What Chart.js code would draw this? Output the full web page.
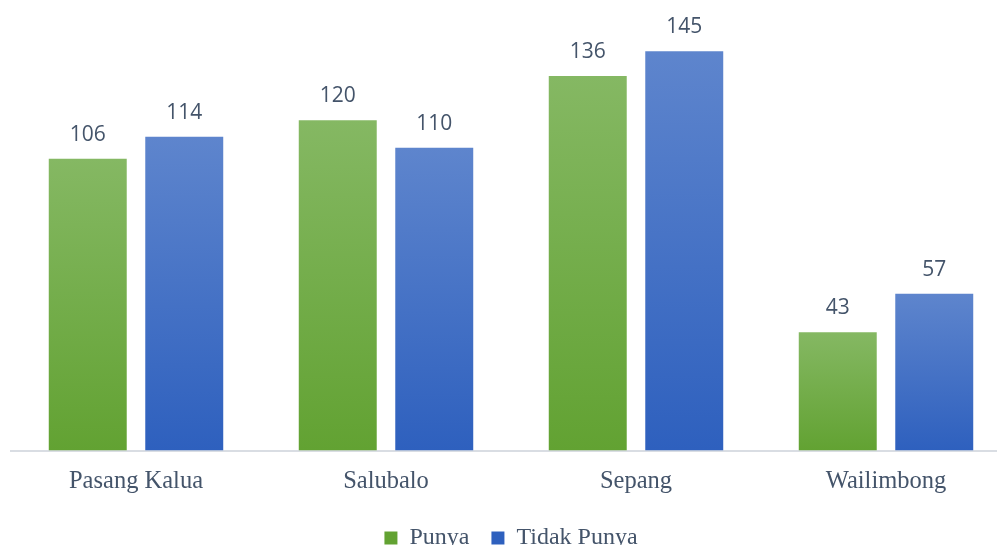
<!DOCTYPE html>
<html>
<head>
<meta charset="utf-8">
<script src="https://cdn.jsdelivr.net/npm/chart.js@4"></script>
<style>
  html, body { margin: 0; padding: 0; background: #fff; overflow: hidden; }
  #wrap { width: 1012px; height: 545px; }
</style>
</head>
<body>
<div id="wrap"><canvas id="myChart" width="1012" height="545"></canvas></div>
<script>
"use strict";

const desa = ["Pasang Kalua", "Salubalo", "Sepang", "Wailimbong"];
const punya = [106, 120, 136, 43];
const tidakPunya = [114, 110, 145, 57];
const textColor = "#44546a";

// gradient per bar: lighter at the top, darker at the base
function barFill(top, bottom, flat) {
  return (c) => {
    const chart = c.chart;
    if (c.raw === undefined || !chart.scales.y) return flat;
    const y = chart.scales.y.getPixelForValue(c.raw);
    const base = chart.scales.y.getPixelForValue(0);
    if (!isFinite(y) || !isFinite(base) || base - y < 1) return flat;
    const g = chart.ctx.createLinearGradient(0, y, 0, base);
    g.addColorStop(0, top);
    g.addColorStop(1, bottom);
    return g;
  };
}

// value above each bar
const valueLabels = {
  id: "valueLabels",
  afterDatasetsDraw(chart) {
    const ctx = chart.ctx;
    ctx.save();
    ctx.font = "21px 'Open Sans'";
    ctx.fillStyle = textColor;
    ctx.textAlign = "center";
    ctx.textBaseline = "middle";
    chart.data.datasets.forEach((ds, i) => {
      chart.getDatasetMeta(i).data.forEach((bar, j) => {
        ctx.fillText(String(ds.data[j]), bar.x, bar.y - 24);
      });
    });
    ctx.restore();
  },
};

const ctx = document.getElementById("myChart");

new Chart(ctx, {
  type: "bar",
  data: {
    labels: desa,
    datasets: [
      {
        label: "Punya",
        data: punya,
        backgroundColor: barFill("#85b863", "#62a232", "#6fad45"),
      },
      {
        label: "Tidak Punya",
        data: tidakPunya,
        backgroundColor: barFill("#5e85cd", "#2e60be", "#4470c6"),
      },
    ],
  },
  options: {
    responsive: false,
    animation: false,
    categoryPercentage: 0.772,
    barPercentage: 0.808,
    layout: { padding: { left: 11, right: 1, top: 10, bottom: -15 } },
    plugins: {
      tooltip: { enabled: false },
      legend: {
        position: "bottom",
        fullSize: false,
        labels: {
          color: textColor,
          font: { family: "'Liberation Serif'", size: 24 },
          boxWidth: 13,
          boxHeight: 13,
          padding: 22,
        },
      },
    },
    scales: {
      y: {
        display: false,
        min: 0,
        max: 160,
      },
      x: {
        grid: { display: false },
        border: { color: "#d9dde3", width: 2 },
        ticks: {
          color: textColor,
          font: { family: "'Liberation Serif'", size: 24.5 },
          padding: 8,
        },
      },
    },
  },
  plugins: [valueLabels],
});
</script>
</body>
</html>
